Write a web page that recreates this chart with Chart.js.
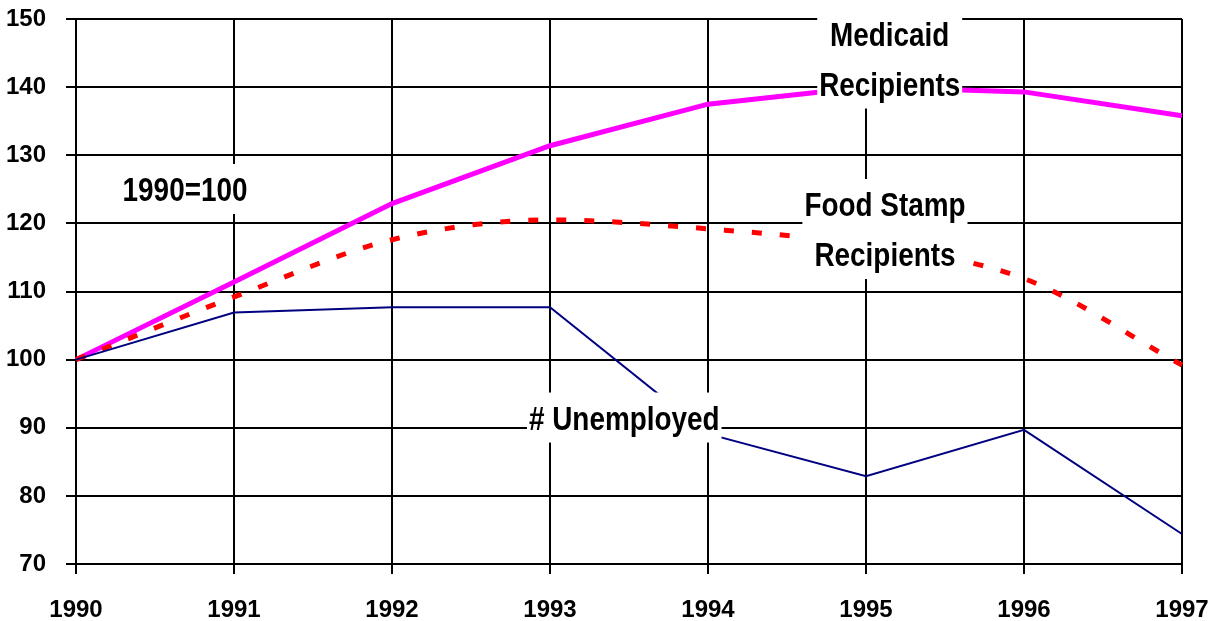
<!DOCTYPE html>
<html>
<head>
<meta charset="utf-8">
<script src="https://cdn.jsdelivr.net/npm/chart.js@4"></script>
<style>
  html, body { margin: 0; padding: 0; background: #fff; }
  #wrap { width: 1215px; height: 621px; }
</style>
</head>
<body>
<div id="wrap"><canvas id="chart" width="1215" height="621"></canvas></div>
<script>
// ── data ──────────────────────────────
const years      = ['1990', '1991', '1992', '1993', '1994', '1995', '1996', '1997'];
const medicaid   = [100, 111.4, 122.9, 131.4, 137.5, 140.0, 139.3, 135.8];
const foodStamps = [100, 109.2, 117.6, 120.5, 119.2, 116.8, 111.9, 99.2];
const unemployed = [100, 106.9, 107.7, 107.7, 89.1, 82.9, 89.7, 74.4];
const yTicks     = [70, 80, 90, 100, 110, 120, 130, 140, 150];

// text boxes drawn over the plot (x as year index, y in index units = box centre)
const notes = [
  { lines: ['Medicaid', 'Recipients'],   x: 5.15, y: 144.2 },
  { lines: ['Food Stamp', 'Recipients'], x: 5.12, y: 119.17 },
  { lines: ['# Unemployed'],             x: 3.47, y: 91.5 },
  { lines: ['1990=100'],                 x: 0.69, y: 125.05 }
];

const FONT   = "'Liberation Sans', Arial, sans-serif";
const NARROW = 0.82;   // squeeze to look like a narrow face

const notePlugin = {
  id: 'notes',
  afterDatasetsDraw(chart) {
    const { ctx, scales: { x, y } } = chart;
    const size = 34, lh = 50, capH = size * 0.716;
    ctx.save();
    ctx.font = 'bold ' + size + 'px ' + FONT;
    ctx.textAlign = 'center';
    ctx.textBaseline = 'alphabetic';
    notes.forEach(n => {
      const cx  = x.getPixelForValue(n.x);
      const cy  = y.getPixelForValue(n.y);
      const w   = Math.max(...n.lines.map(l => ctx.measureText(l).width)) * NARROW + 4;
      const h   = n.lines.length * lh;
      const top = cy - h / 2;
      ctx.fillStyle = '#fff';
      ctx.fillRect(cx - w / 2, top, w, h);
      ctx.fillStyle = '#000';
      n.lines.forEach((l, i) => {
        ctx.save();
        ctx.translate(cx, top + lh / 2 + i * lh + capH / 2);
        ctx.scale(NARROW, 1);
        ctx.fillText(l, 0, 0);
        ctx.restore();
      });
    });
    ctx.restore();
  }
};

const tickFont = { family: FONT, size: 24, weight: 'bold' };

new Chart(document.getElementById('chart').getContext('2d'), {
  type: 'line',
  data: {
    labels: years,
    datasets: [
      {
        label: 'Unemployed',
        data: unemployed,
        borderColor: '#000080',
        borderWidth: 2,
        pointRadius: 0,
        tension: 0
      },
      {
        label: 'Food Stamp Recipients',
        data: foodStamps,
        borderColor: '#ff0000',
        borderWidth: 5,
        borderDash: [10, 18],
        borderCapStyle: 'butt',
        pointRadius: 0,
        cubicInterpolationMode: 'monotone'
      },
      {
        label: 'Medicaid Recipients',
        data: medicaid,
        borderColor: '#ff00ff',
        borderWidth: 5,
        pointRadius: 0,
        tension: 0
      }
    ]
  },
  options: {
    responsive: false,
    animation: false,
    layout: { padding: { top: 19, right: 33, left: 0, bottom: 0 } },
    plugins: {
      legend: { display: false },
      tooltip: { enabled: false }
    },
    scales: {
      x: {
        offset: false,
        grid: { color: '#000', lineWidth: 2, tickLength: 10 },
        border: { color: '#000', width: 2 },
        ticks: { color: '#000', padding: 22, maxRotation: 0, autoSkip: false, font: tickFont },
        afterFit: s => { s.height = 57; s.paddingLeft = 0; s.paddingRight = 0; }
      },
      y: {
        min: 70, max: 150,
        afterBuildTicks: s => { s.ticks = yTicks.map(v => ({ value: v })); },
        grid: { color: '#000', lineWidth: 2, tickLength: 10 },
        border: { color: '#000', width: 2 },
        ticks: { color: '#000', padding: 20, font: tickFont },
        afterFit: s => { s.width = 76; s.paddingTop = 0; s.paddingBottom = 0; }
      }
    }
  },
  plugins: [notePlugin]
});
</script>
</body>
</html>
